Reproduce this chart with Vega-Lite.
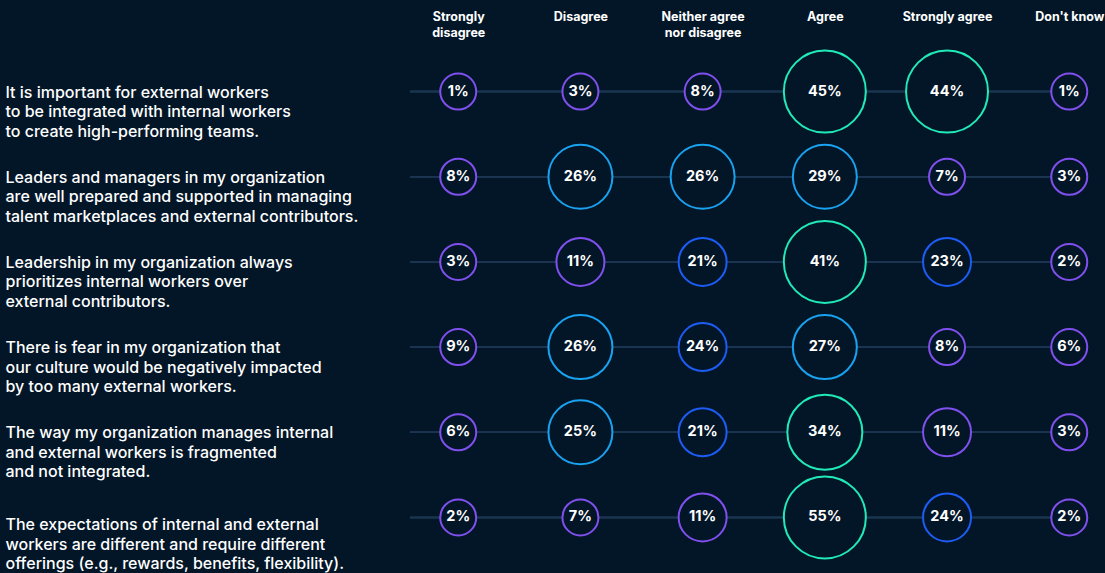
{
  "$schema": "https://vega.github.io/schema/vega-lite/v6.json",
  "width": 678,
  "height": 511,
  "autosize": {"type": "none"},
  "padding": {"left": 410, "top": 49, "right": 17, "bottom": 13},
  "background": "#031628",
  "config": {"view": {"stroke": null}, "font": "Inter"},
  "data": {
    "values": [
      {"statement": "It is important for external workers|to be integrated with internal workers|to create high-performing teams.", "response": "Strongly disagree", "value": 1},
      {"statement": "It is important for external workers|to be integrated with internal workers|to create high-performing teams.", "response": "Disagree", "value": 3},
      {"statement": "It is important for external workers|to be integrated with internal workers|to create high-performing teams.", "response": "Neither agree nor disagree", "value": 8},
      {"statement": "It is important for external workers|to be integrated with internal workers|to create high-performing teams.", "response": "Agree", "value": 45},
      {"statement": "It is important for external workers|to be integrated with internal workers|to create high-performing teams.", "response": "Strongly agree", "value": 44},
      {"statement": "It is important for external workers|to be integrated with internal workers|to create high-performing teams.", "response": "Don't know", "value": 1},
      {"statement": "Leaders and managers in my organization|are well prepared and supported in managing|talent marketplaces and external contributors.", "response": "Strongly disagree", "value": 8},
      {"statement": "Leaders and managers in my organization|are well prepared and supported in managing|talent marketplaces and external contributors.", "response": "Disagree", "value": 26},
      {"statement": "Leaders and managers in my organization|are well prepared and supported in managing|talent marketplaces and external contributors.", "response": "Neither agree nor disagree", "value": 26},
      {"statement": "Leaders and managers in my organization|are well prepared and supported in managing|talent marketplaces and external contributors.", "response": "Agree", "value": 29},
      {"statement": "Leaders and managers in my organization|are well prepared and supported in managing|talent marketplaces and external contributors.", "response": "Strongly agree", "value": 7},
      {"statement": "Leaders and managers in my organization|are well prepared and supported in managing|talent marketplaces and external contributors.", "response": "Don't know", "value": 3},
      {"statement": "Leadership in my organization always|prioritizes internal workers over|external contributors.", "response": "Strongly disagree", "value": 3},
      {"statement": "Leadership in my organization always|prioritizes internal workers over|external contributors.", "response": "Disagree", "value": 11},
      {"statement": "Leadership in my organization always|prioritizes internal workers over|external contributors.", "response": "Neither agree nor disagree", "value": 21},
      {"statement": "Leadership in my organization always|prioritizes internal workers over|external contributors.", "response": "Agree", "value": 41},
      {"statement": "Leadership in my organization always|prioritizes internal workers over|external contributors.", "response": "Strongly agree", "value": 23},
      {"statement": "Leadership in my organization always|prioritizes internal workers over|external contributors.", "response": "Don't know", "value": 2},
      {"statement": "There is fear in my organization that|our culture would be negatively impacted|by too many external workers.", "response": "Strongly disagree", "value": 9},
      {"statement": "There is fear in my organization that|our culture would be negatively impacted|by too many external workers.", "response": "Disagree", "value": 26},
      {"statement": "There is fear in my organization that|our culture would be negatively impacted|by too many external workers.", "response": "Neither agree nor disagree", "value": 24},
      {"statement": "There is fear in my organization that|our culture would be negatively impacted|by too many external workers.", "response": "Agree", "value": 27},
      {"statement": "There is fear in my organization that|our culture would be negatively impacted|by too many external workers.", "response": "Strongly agree", "value": 8},
      {"statement": "There is fear in my organization that|our culture would be negatively impacted|by too many external workers.", "response": "Don't know", "value": 6},
      {"statement": "The way my organization manages internal|and external workers is fragmented|and not integrated.", "response": "Strongly disagree", "value": 6},
      {"statement": "The way my organization manages internal|and external workers is fragmented|and not integrated.", "response": "Disagree", "value": 25},
      {"statement": "The way my organization manages internal|and external workers is fragmented|and not integrated.", "response": "Neither agree nor disagree", "value": 21},
      {"statement": "The way my organization manages internal|and external workers is fragmented|and not integrated.", "response": "Agree", "value": 34},
      {"statement": "The way my organization manages internal|and external workers is fragmented|and not integrated.", "response": "Strongly agree", "value": 11},
      {"statement": "The way my organization manages internal|and external workers is fragmented|and not integrated.", "response": "Don't know", "value": 3},
      {"statement": "The expectations of internal and external|workers are different and require different|offerings (e.g., rewards, benefits, flexibility).", "response": "Strongly disagree", "value": 2},
      {"statement": "The expectations of internal and external|workers are different and require different|offerings (e.g., rewards, benefits, flexibility).", "response": "Disagree", "value": 7},
      {"statement": "The expectations of internal and external|workers are different and require different|offerings (e.g., rewards, benefits, flexibility).", "response": "Neither agree nor disagree", "value": 11},
      {"statement": "The expectations of internal and external|workers are different and require different|offerings (e.g., rewards, benefits, flexibility).", "response": "Agree", "value": 55},
      {"statement": "The expectations of internal and external|workers are different and require different|offerings (e.g., rewards, benefits, flexibility).", "response": "Strongly agree", "value": 24},
      {"statement": "The expectations of internal and external|workers are different and require different|offerings (e.g., rewards, benefits, flexibility).", "response": "Don't know", "value": 2}
    ]
  },
  "encoding": {
    "y": {
      "field": "statement",
      "type": "nominal",
      "sort": null,
      "scale": {"type": "band", "paddingInner": 0, "paddingOuter": 0},
      "axis": {
        "title": null,
        "orient": "left",
        "domain": false,
        "ticks": false,
        "tickSize": 0,
        "labelPadding": 405,
        "labelAlign": "left",
        "labelBaseline": "alphabetic",
        "labelOffset": {"condition": {"test": "indexof(datum.value, 'The expectations') === 0", "value": 13}, "value": 6},
        "labelExpr": "split(datum.label, '|')",
        "labelLineHeight": 19.5,
        "labelFont": "Inter",
        "labelFontSize": 16,
        "labelFontWeight": 500,
        "labelColor": "#ffffff",
        "labelLimit": 0
      }
    }
  },
  "layer": [
    {
      "mark": {"type": "rule", "color": "#1a3550", "strokeWidth": 1.5},
      "encoding": {
        "x": {"value": 0},
        "x2": {"value": "width"}
      }
    },
    {
      "mark": {"type": "point", "shape": "circle", "filled": false, "strokeWidth": 2, "fill": "#031628", "fillOpacity": 1, "opacity": 1},
      "encoding": {
        "x": {
          "field": "response",
          "type": "nominal",
          "sort": ["Strongly disagree", "Disagree", "Neither agree nor disagree", "Agree", "Strongly agree", "Don't know"],
          "scale": {"type": "point", "padding": 0.274, "align": 0.72},
          "axis": {
            "title": null,
            "orient": "top",
            "domain": false,
            "ticks": false,
            "tickSize": 0,
            "labelAngle": 0,
            "labelPadding": 39,
            "labelAlign": "center",
            "labelBaseline": "top",
            "labelExpr": "datum.value == 'Strongly disagree' ? ['Strongly', 'disagree'] : datum.value == 'Neither agree nor disagree' ? ['Neither agree', 'nor disagree'] : datum.value",
            "labelLineHeight": 16,
            "labelFont": "Inter",
            "labelFontSize": 12.5,
            "labelFontWeight": "bold",
            "labelColor": "#ffffff",
            "labelLimit": 0,
            "labelOverlap": false
          }
        },
        "stroke": {
          "field": "value",
          "type": "quantitative",
          "scale": {"type": "threshold", "domain": [20, 25, 30], "range": ["#8050ee", "#1d5cf5", "#18a2f0", "#20eab8"]},
          "legend": null
        },
        "size": {
          "field": "value",
          "type": "quantitative",
          "scale": {"type": "threshold", "domain": [10, 25, 30, 40], "range": [1296, 2304, 4096, 5625, 6724]},
          "legend": null
        }
      }
    },
    {
      "mark": {"type": "text", "color": "#ffffff", "font": "Inter", "fontSize": 14.5, "fontWeight": "bold", "align": "center", "baseline": "middle", "text": {"expr": "datum.value + '%'"}},
      "encoding": {
        "x": {"field": "response", "type": "nominal", "sort": ["Strongly disagree", "Disagree", "Neither agree nor disagree", "Agree", "Strongly agree", "Don't know"]}
      }
    }
  ]
}
